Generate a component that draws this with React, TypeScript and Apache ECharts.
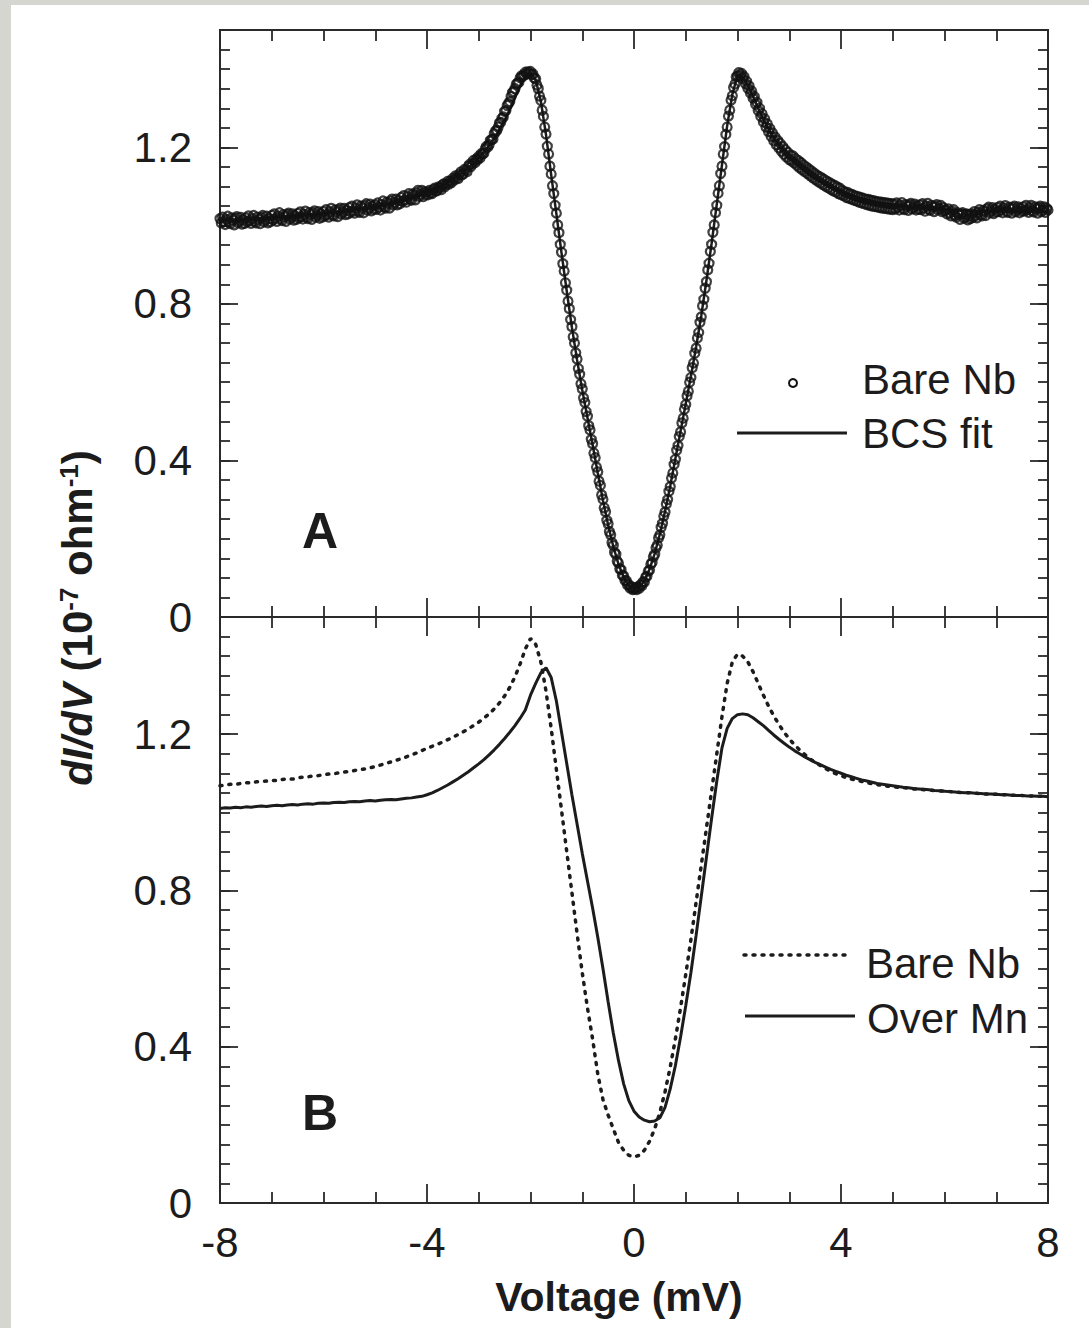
import React, { useEffect, useRef } from "react";
import * as echarts from "echarts";

// Voltage sampling (mV)
const X_START = -8;
const LINE_STEP = 0.1; // 161 samples for line series
const DOT_STEP = 0.025; // 641 samples for the measured points in panel A

// Panel A: BCS fit (line), -8 .. 8 step 0.1
const bcsFit = [
  1.013,1.014,1.015,1.015,1.016,1.017,1.018,1.018,1.019,1.020,
  1.021,1.022,1.023,1.024,1.025,1.026,1.027,1.028,1.029,1.030,
  1.031,1.032,1.034,1.035,1.037,1.038,1.040,1.042,1.044,1.046,
  1.048,1.051,1.053,1.056,1.059,1.062,1.066,1.070,1.074,1.078,
  1.083,1.089,1.095,1.102,1.110,1.118,1.127,1.137,1.148,1.160,
  1.173,1.188,1.205,1.224,1.246,1.270,1.297,1.327,1.357,1.380,
  1.390,1.373,1.318,1.232,1.130,1.030,0.930,0.833,0.740,0.657,
  0.580,0.510,0.440,0.368,0.298,0.235,0.180,0.135,0.102,0.080,
  0.072,
  0.076,0.092,0.122,0.162,0.212,0.270,0.335,0.405,0.475,0.545,
  0.615,0.690,0.770,0.860,0.955,1.055,1.155,1.255,1.335,1.385,
  1.380,1.358,1.330,1.300,1.272,1.247,1.225,1.206,1.190,1.176,
  1.163,1.151,1.140,1.130,1.121,1.113,1.105,1.098,1.092,1.086,
  1.081,1.077,1.073,1.069,1.066,1.063,1.060,1.058,1.056,1.054,
  1.052,1.050,1.049,1.047,1.046,1.045,1.044,1.043,1.042,1.041,
  1.040,1.040,1.039,1.039,1.038,1.038,1.037,1.037,1.037,1.036,
  1.036,1.036,1.036,1.035,1.035,1.035,1.035,1.035,1.035,1.035,
];

// Panel A: measured bare Nb (open circles), -8 .. 8 step 0.025
const bareNbPoints = [
  // -8.000 .. -7.025
  1.018,1.007,1.022,1.011,1.003,1.016,1.024,1.009,1.005,1.020,
  1.014,1.002,1.019,1.023,1.008,1.012,1.021,1.004,1.015,1.006,
  1.020,1.010,1.025,1.013,1.006,1.018,1.026,1.011,1.007,1.022,
  1.016,1.005,1.021,1.026,1.010,1.015,1.024,1.007,1.018,1.010,
  // -7.000 .. -6.025
  1.026,1.015,1.030,1.019,1.011,1.024,1.033,1.017,1.013,1.028,
  1.023,1.011,1.028,1.032,1.017,1.022,1.030,1.014,1.025,1.016,
  1.031,1.020,1.035,1.023,1.017,1.029,1.037,1.022,1.018,1.033,
  1.028,1.016,1.033,1.038,1.022,1.027,1.036,1.019,1.030,1.022,
  // -6.000 .. -5.025
  1.036,1.025,1.041,1.029,1.022,1.035,1.044,1.028,1.025,1.040,
  1.035,1.023,1.041,1.045,1.030,1.035,1.044,1.028,1.039,1.030,
  1.046,1.035,1.050,1.038,1.032,1.045,1.053,1.038,1.034,1.050,
  1.045,1.033,1.051,1.056,1.040,1.045,1.055,1.038,1.050,1.042,
  // -5.000 .. -4.025
  1.053,1.042,1.058,1.047,1.040,1.054,1.063,1.048,1.045,1.060,
  1.056,1.045,1.063,1.068,1.053,1.059,1.068,1.053,1.064,1.056,
  1.072,1.062,1.077,1.066,1.060,1.074,1.082,1.068,1.065,1.081,
  1.077,1.066,1.084,1.090,1.075,1.080,1.090,1.074,1.086,1.079,
  // -4.000 .. -3.025
  1.086,1.079,1.090,1.084,1.082,1.092,1.096,1.088,1.090,1.099,
  1.097,1.092,1.104,1.107,1.100,1.106,1.113,1.106,1.114,1.110,
  1.121,1.116,1.127,1.122,1.120,1.131,1.137,1.130,1.132,1.144,
  1.142,1.138,1.152,1.157,1.151,1.158,1.167,1.161,1.170,1.168,
  // -3.000 .. -2.025
  1.177,1.173,1.184,1.183,1.185,1.196,1.203,1.201,1.207,1.218,
  1.220,1.221,1.235,1.242,1.243,1.252,1.263,1.264,1.274,1.278,
  1.292,1.294,1.307,1.312,1.317,1.330,1.340,1.343,1.350,1.362,
  1.364,1.366,1.378,1.383,1.381,1.385,1.392,1.387,1.393,1.390,
  // -2.000 .. -1.025
  1.394,1.386,1.387,1.377,1.375,1.359,1.350,1.331,1.320,1.295,
  1.279,1.252,1.234,1.203,1.183,1.152,1.132,1.102,1.082,1.052,
  1.032,1.002,0.982,0.952,0.932,0.903,0.884,0.854,0.835,0.807,
  0.788,0.760,0.742,0.716,0.700,0.675,0.659,0.635,0.620,0.596,
  // -1.000 .. -0.025
  0.583,0.560,0.548,0.525,0.513,0.489,0.478,0.454,0.443,0.419,
  0.407,0.383,0.371,0.347,0.336,0.312,0.301,0.279,0.269,0.247,
  0.238,0.218,0.210,0.190,0.183,0.165,0.160,0.143,0.138,0.123,
  0.121,0.107,0.105,0.093,0.093,0.082,0.083,0.074,0.077,0.070,
  // 0.000
  0.072,
  // 0.025 .. 1.000
  0.075,0.070,0.077,0.073,0.082,0.080,0.090,0.089,0.102,0.104,
  0.117,0.120,0.135,0.139,0.154,0.160,0.177,0.184,0.202,0.210,
  0.229,0.239,0.258,0.268,0.289,0.300,0.321,0.333,0.355,0.368,
  0.390,0.403,0.426,0.438,0.461,0.473,0.496,0.508,0.531,0.543,
  // 1.025 .. 2.000
  0.565,0.577,0.600,0.612,0.637,0.649,0.674,0.687,0.713,0.727,
  0.753,0.767,0.795,0.812,0.840,0.857,0.887,0.904,0.934,0.952,
  0.983,1.002,1.033,1.052,1.083,1.102,1.133,1.152,1.183,1.202,
  1.233,1.252,1.280,1.295,1.321,1.332,1.353,1.362,1.380,1.383,
  // 2.025 .. 3.000
  1.391,1.384,1.389,1.376,1.381,1.363,1.369,1.351,1.357,1.339,
  1.344,1.326,1.330,1.310,1.315,1.294,1.300,1.279,1.286,1.265,
  1.273,1.252,1.260,1.240,1.248,1.228,1.237,1.217,1.227,1.207,
  1.218,1.199,1.210,1.190,1.202,1.182,1.194,1.175,1.187,1.169,
  // 3.025 .. 4.000
  1.180,1.165,1.178,1.160,1.171,1.154,1.166,1.148,1.161,1.143,
  1.155,1.138,1.150,1.133,1.145,1.128,1.140,1.123,1.135,1.118,
  1.130,1.114,1.126,1.109,1.122,1.105,1.118,1.101,1.114,1.097,
  1.110,1.093,1.106,1.089,1.103,1.086,1.099,1.082,1.096,1.079,
  // 4.025 .. 5.000
  1.090,1.077,1.086,1.072,1.085,1.070,1.081,1.068,1.079,1.065,
  1.076,1.063,1.074,1.060,1.072,1.058,1.070,1.056,1.068,1.054,
  1.067,1.052,1.065,1.050,1.064,1.049,1.062,1.048,1.061,1.046,
  1.060,1.045,1.059,1.044,1.058,1.043,1.057,1.042,1.056,1.041,
  // 5.025 .. 6.000
  1.055,1.043,1.058,1.047,1.040,1.052,1.059,1.044,1.041,1.054,
  1.050,1.039,1.053,1.057,1.043,1.047,1.055,1.040,1.050,1.042,
  1.053,1.041,1.056,1.045,1.037,1.050,1.057,1.042,1.039,1.052,
  1.048,1.036,1.050,1.054,1.040,1.044,1.052,1.036,1.046,1.038,
  // 6.025 .. 7.000
  1.040,1.030,1.043,1.032,1.025,1.036,1.041,1.026,1.022,1.033,
  1.028,1.016,1.030,1.033,1.019,1.022,1.030,1.015,1.025,1.018,
  1.030,1.021,1.036,1.026,1.020,1.034,1.041,1.028,1.025,1.039,
  1.036,1.026,1.043,1.047,1.033,1.038,1.046,1.031,1.042,1.035,
  // 7.025 .. 8.000
  1.046,1.036,1.050,1.040,1.033,1.045,1.051,1.037,1.034,1.047,
  1.043,1.032,1.046,1.050,1.036,1.040,1.048,1.033,1.044,1.037,
  1.048,1.038,1.052,1.041,1.034,1.046,1.052,1.038,1.035,1.048,
  1.043,1.032,1.046,1.050,1.036,1.040,1.048,1.034,1.044,1.040,
];

// Panel B: bare Nb (dotted), -8 .. 8 step 0.1
const bareNbB = [
  1.068,1.070,1.072,1.071,1.074,1.076,1.075,1.078,1.079,1.080,
  1.082,1.081,1.084,1.086,1.085,1.088,1.090,1.091,1.093,1.094,
  1.096,1.098,1.099,1.101,1.103,1.105,1.107,1.109,1.111,1.114,
  1.117,1.121,1.125,1.129,1.133,1.137,1.142,1.147,1.152,1.158,
  1.164,1.169,1.174,1.180,1.186,1.192,1.199,1.206,1.214,1.222,
  1.231,1.241,1.252,1.265,1.280,1.298,1.320,1.347,1.380,1.418,
  1.445,1.430,1.385,1.310,1.215,1.110,1.005,0.900,0.795,0.690,
  0.590,0.500,0.420,0.330,0.265,0.225,0.190,0.155,0.135,0.122,
  0.118,
  0.122,0.135,0.158,0.190,0.232,0.285,0.348,0.420,0.500,0.585,
  0.675,0.770,0.865,0.960,1.055,1.150,1.245,1.330,1.385,1.405,
  1.400,1.385,1.360,1.330,1.300,1.272,1.247,1.225,1.205,1.188,
  1.173,1.160,1.148,1.137,1.128,1.120,1.112,1.105,1.099,1.094,
  1.089,1.085,1.082,1.079,1.076,1.073,1.071,1.069,1.067,1.066,
  1.064,1.063,1.062,1.060,1.059,1.058,1.057,1.056,1.055,1.054,
  1.053,1.052,1.051,1.050,1.050,1.049,1.048,1.047,1.047,1.046,
  1.045,1.045,1.044,1.043,1.043,1.042,1.042,1.041,1.041,1.040,
];

// Panel B: over Mn (solid), -8 .. 8 step 0.1
const overMnB = [
  1.010,1.012,1.011,1.013,1.012,1.014,1.013,1.015,1.016,1.015,
  1.017,1.018,1.017,1.019,1.020,1.019,1.021,1.022,1.021,1.023,
  1.024,1.023,1.025,1.026,1.025,1.027,1.028,1.027,1.029,1.030,
  1.029,1.031,1.032,1.033,1.032,1.034,1.036,1.037,1.039,1.041,
  1.045,1.050,1.056,1.063,1.070,1.078,1.086,1.095,1.104,1.114,
  1.124,1.135,1.147,1.160,1.174,1.189,1.205,1.222,1.241,1.262,
  1.300,1.330,1.357,1.370,1.345,1.285,1.205,1.125,1.045,0.970,
  0.895,0.825,0.755,0.680,0.600,0.515,0.435,0.365,0.305,0.262,
  0.235,
  0.220,0.212,0.208,0.210,0.218,0.245,0.292,0.352,0.425,0.505,
  0.590,0.685,0.785,0.885,0.985,1.080,1.165,1.215,1.240,1.250,
  1.252,1.250,1.242,1.232,1.222,1.210,1.198,1.187,1.177,1.167,
  1.158,1.150,1.142,1.135,1.128,1.122,1.116,1.110,1.105,1.100,
  1.095,1.091,1.087,1.083,1.080,1.077,1.074,1.072,1.070,1.068,
  1.066,1.064,1.063,1.061,1.060,1.059,1.058,1.056,1.055,1.054,
  1.053,1.052,1.051,1.050,1.050,1.049,1.048,1.047,1.047,1.046,
  1.045,1.045,1.044,1.043,1.043,1.042,1.042,1.041,1.041,1.040,
];

const X_MIN = -8;
const X_MAX = 8;
const X_INTERVAL = 4;
const Y_MIN = 0;
const Y_MAX = 1.5;
const Y_INTERVAL = 0.4;
const Y_MINOR = 0.05;

const FONT = "'Liberation Sans', Arial, Helvetica, sans-serif";
const INK = "#1c1c1c";
const DOT_INK = "#111111";

function toPairs(values: number[], step: number): [number, number][] {
  return values.map((v, i) => [Number((X_START + i * step).toFixed(3)), v]);
}

const tickStyle = { color: "#2a2a2a", width: 1.8 };

function makeX(gridIndex: number, position: "top" | "bottom", labels: boolean) {
  return {
    type: "value",
    gridIndex,
    position,
    min: X_MIN,
    max: X_MAX,
    interval: X_INTERVAL,
    axisLine: { show: false, onZero: false },
    axisTick: { show: true, inside: true, length: 19, lineStyle: tickStyle },
    minorTick: { show: true, splitNumber: 4, length: 11, lineStyle: tickStyle },
    splitLine: { show: false },
    minorSplitLine: { show: false },
    axisLabel: labels
      ? { show: true, color: INK, fontFamily: FONT, fontSize: 42, margin: 18 }
      : { show: false },
  };
}

function makeY(gridIndex: number, position: "left" | "right", major: boolean, labels: boolean) {
  return {
    type: "value",
    gridIndex,
    position,
    min: Y_MIN,
    max: Y_MAX,
    interval: major ? Y_INTERVAL : Y_MINOR,
    axisLine: { show: false, onZero: false },
    axisTick: { show: true, inside: true, length: major ? 18 : 10, lineStyle: tickStyle },
    splitLine: { show: false },
    axisLabel: labels
      ? {
          show: true,
          color: INK,
          fontFamily: FONT,
          fontSize: 42,
          margin: 28,
          showMaxLabel: false,
          formatter: (v: number) => (v > 1.45 ? "" : String(Math.round(v * 10) / 10)),
        }
      : { show: false },
  };
}

export default function App() {
  const ref = useRef<HTMLDivElement>(null);

  useEffect(() => {
    if (!ref.current) return;
    const chart = echarts.init(ref.current, undefined, { renderer: "svg" });

    const gridCommon = {
      left: 209,
      width: 828,
      show: true,
      borderColor: "#2a2a2a",
      borderWidth: 2,
      backgroundColor: "transparent",
      containLabel: false,
    };

    const legendText = (text: string, x: number, y: number) => ({
      type: "text",
      x,
      y,
      style: { text, align: "left", verticalAlign: "middle", fontFamily: FONT, fontSize: 42, fill: INK },
    });

    const option: any = {
      animation: false,
      backgroundColor: "#ffffff",
      grid: [
        { ...gridCommon, top: 25, height: 587 },
        { ...gridCommon, top: 612, height: 586 },
      ],
      xAxis: [
        makeX(0, "bottom", false),
        makeX(0, "top", false),
        makeX(1, "bottom", true),
        makeX(1, "top", false),
      ],
      yAxis: [
        makeY(0, "left", true, true),
        makeY(0, "left", false, false),
        makeY(0, "right", true, false),
        makeY(0, "right", false, false),
        makeY(1, "left", true, true),
        makeY(1, "left", false, false),
        makeY(1, "right", true, false),
        makeY(1, "right", false, false),
      ],
      series: [
        {
          name: "BCS fit",
          type: "line",
          xAxisIndex: 0,
          yAxisIndex: 0,
          showSymbol: false,
          lineStyle: { color: INK, width: 2.5 },
          data: toPairs(bcsFit, LINE_STEP),
          z: 2,
        },
        {
          name: "Bare Nb",
          type: "scatter",
          xAxisIndex: 0,
          yAxisIndex: 0,
          symbol: "circle",
          symbolSize: 9,
          itemStyle: { color: "rgba(0,0,0,0)", borderColor: DOT_INK, borderWidth: 2.2 },
          data: toPairs(bareNbPoints, DOT_STEP),
          z: 3,
        },
        {
          name: "Bare Nb (B)",
          type: "line",
          xAxisIndex: 2,
          yAxisIndex: 4,
          showSymbol: false,
          lineStyle: { color: INK, width: 3.5, type: [2, 7], cap: "round" },
          data: toPairs(bareNbB, LINE_STEP),
        },
        {
          name: "Over Mn",
          type: "line",
          xAxisIndex: 2,
          yAxisIndex: 4,
          showSymbol: false,
          lineStyle: { color: INK, width: 3 },
          data: toPairs(overMnB, LINE_STEP),
        },
      ],
      graphic: [
        // y-axis title
        {
          type: "text",
          x: 66,
          y: 613,
          rotation: Math.PI / 2,
          style: {
            text: "{i|dI/dV}{b| (10}{s|-7}{b| ohm}{s|-1}{b|)}",
            align: "center",
            verticalAlign: "middle",
            fill: INK,
            rich: {
              i: { fontFamily: FONT, fontSize: 42, fontWeight: "bold", fontStyle: "italic", fill: INK },
              b: { fontFamily: FONT, fontSize: 42, fontWeight: "bold", fill: INK },
              s: { fontFamily: FONT, fontSize: 26, fontWeight: "bold", fill: INK, verticalAlign: "top" },
            },
          },
        },
        // x-axis title
        {
          type: "text",
          x: 608,
          y: 1292,
          style: {
            text: "Voltage (mV)",
            align: "center",
            verticalAlign: "middle",
            fontFamily: FONT,
            fontSize: 41,
            fontWeight: "bold",
            fill: INK,
          },
        },
        // panel labels
        {
          type: "text",
          x: 291,
          y: 526,
          style: { text: "A", align: "left", verticalAlign: "middle", fontFamily: FONT, fontSize: 50, fontWeight: "bold", fill: INK },
        },
        {
          type: "text",
          x: 291,
          y: 1108,
          style: { text: "B", align: "left", verticalAlign: "middle", fontFamily: FONT, fontSize: 50, fontWeight: "bold", fill: INK },
        },
        // legend A
        {
          type: "circle",
          shape: { cx: 782, cy: 378, r: 4 },
          style: { fill: "rgba(0,0,0,0)", stroke: DOT_INK, lineWidth: 2 },
        },
        legendText("Bare Nb", 851, 374),
        {
          type: "line",
          shape: { x1: 726, y1: 428, x2: 836, y2: 428 },
          style: { stroke: INK, lineWidth: 3 },
        },
        legendText("BCS fit", 851, 428),
        // legend B
        {
          type: "line",
          shape: { x1: 733, y1: 950, x2: 841, y2: 950 },
          style: { stroke: INK, lineWidth: 3.5, lineDash: [2, 7], lineCap: "round" },
        },
        legendText("Bare Nb", 855, 958),
        {
          type: "line",
          shape: { x1: 734, y1: 1011, x2: 844, y2: 1011 },
          style: { stroke: INK, lineWidth: 3 },
        },
        legendText("Over Mn", 856, 1013),
      ],
    };

    chart.setOption(option);
    return () => chart.dispose();
  }, []);

  return (
    <div
      style={{
        position: "absolute",
        left: 0,
        top: 0,
        width: 1089,
        height: 1328,
        background: "#d6d6d1",
        overflow: "hidden",
      }}
    >
      <div
        ref={ref}
        style={{ position: "absolute", left: 11, top: 5, width: 1078, height: 1323, background: "#ffffff" }}
      />
    </div>
  );
}
